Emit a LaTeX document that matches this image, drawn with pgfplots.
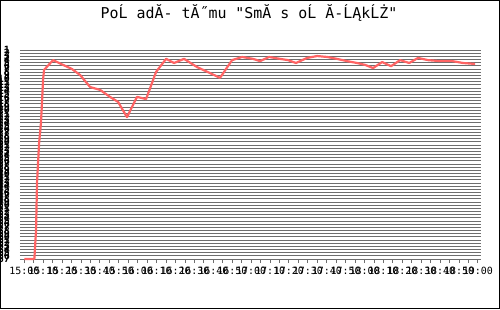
\documentclass[border=0pt]{standalone}
\usepackage{pgfplots}
\pgfplotsset{compat=1.18}
\usepackage{fontspec}
\setmainfont{DejaVu Sans Mono}[Ligatures=TeXOff]
\definecolor{gridc}{HTML}{6E6E6E}
\definecolor{linec}{HTML}{FF6464}
\pgfplotstableread{
m r
0 67
5.3 67
6.2 57.8
6.7 43.0
7.8 30.4
8.8 24.0
9.4 16.8
9.9 10.5
10.4 7.3
15.2 4.2
20.5 5.7
25.2 7.0
29.5 8.9
34.8 12.7
40.1 13.6
45.3 15.8
49.6 17.4
54.3 22.2
59.6 15.8
64.4 16.5
69.7 7.9
75.0 3.8
79.2 5.1
84.5 3.8
91.4 6.4
98.3 8.3
103.5 9.8
109.9 4.2
115.2 3.2
121.0 3.8
124.7 4.5
129.5 3.2
135.3 3.8
139.5 4.2
143.7 5.1
149.6 3.5
154.9 2.9
160.2 3.2
165.4 3.8
170.7 4.5
176.0 5.1
180.3 5.7
184.5 6.7
189.3 4.8
194.0 6.1
198.8 4.2
203.6 5.1
208.3 3.5
213.6 4.2
219.9 4.5
226.3 4.5
232.1 5.1
238.5 5.4
}\rankdata
\begin{document}
\begin{tikzpicture}
\begin{axis}[
  name=ax, at={(0,0)}, anchor=south west, scale only axis,
  width=461bp, height=209bp,
  xmin=-2.3, xmax=241.6, ymin=1, ymax=67, y dir=reverse,
  axis line style={draw=none},
  ymajorgrids, grid style={gridc, line width=1bp},
  ytick={1,2,...,67},
  yticklabels={1,2,3,4,5,6,7,8,9,10,11,12,13,14,15,16,17,18,19,20,21,22,23,24,25,26,27,28,29,30,31,32,33,34,35,36,37,38,39,40,41,42,43,44,45,46,47,48,49,50,51,52,53,54,55,56,57,58,59,60,61,62,63,64,65,66,67},
  ytick style={draw=none},
  yticklabel style={font=\fontsize{10}{10}\selectfont\bfseries, anchor=east, inner sep=0pt, xshift=-6bp},
  xtick={0,5,...,240},
  xticklabels={15:00,,15:10,,15:20,,15:30,,15:40,,15:50,,16:00,,16:10,,16:20,,16:30,,16:40,,16:50,,17:00,,17:10,,17:20,,17:30,,17:40,,17:50,,18:00,,18:10,,18:20,,18:30,,18:40,,18:50,,19:00},
  xtick pos=bottom, tick align=outside, major tick length=4bp,
  xtick style={gridc, line width=1bp},
  xticklabel style={font=\fontsize{10}{10}\selectfont, anchor=north, inner sep=0pt, yshift=-4bp},
  clip=false,
]
\addplot[linec, line width=2.2bp, line join=round] table[x=m, y=r] {\rankdata};
\end{axis}
\begin{scope}[x=1bp, y=1bp]
\draw[black, line width=1bp] (-19.5,-49.5) rectangle (479.5,258.5);
\node[font=\fontsize{15}{16}\selectfont, anchor=base, inner sep=0pt] at (229,241) {PoĹ adĂ- tĂ˝mu "SmĂ s oĹ Ă-ĹĄkĹŻ"};
\pgfresetboundingbox
\useasboundingbox (-20,-50) rectangle (480,259);
\end{scope}
\end{tikzpicture}
\end{document}
